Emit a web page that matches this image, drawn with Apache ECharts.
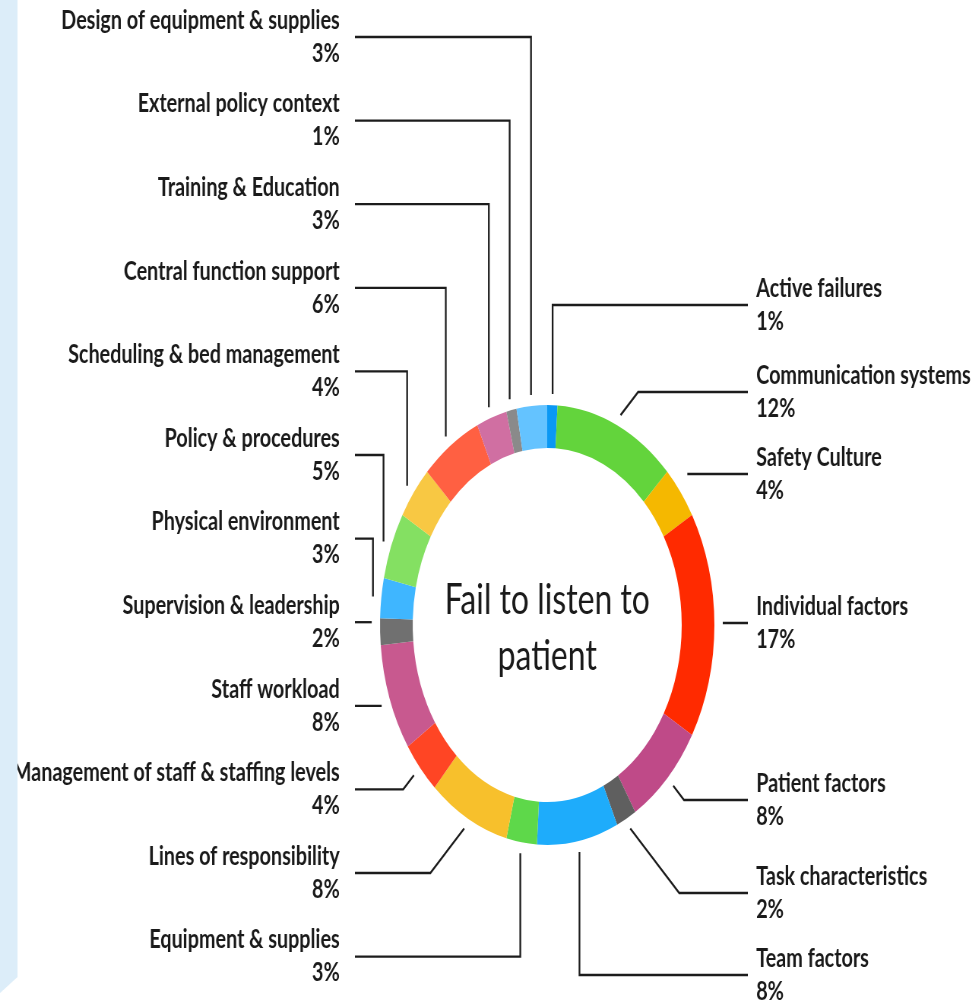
<!DOCTYPE html>
<html>
<head>
<meta charset="utf-8">
<script src="https://cdn.jsdelivr.net/npm/echarts@6/dist/echarts.min.js"></script>
<style>
  html, body { margin: 0; padding: 0; background: #ffffff; overflow: hidden; }
  #wrap { width: 973px; height: 1003px; overflow: hidden; position: relative; }
  /* the ring is drawn round and then squeezed horizontally into an ellipse */
  #chart { width: 1280px; height: 1003px; transform: scaleX(0.76); transform-origin: 0 0; }
</style>
</head>
<body>
<div id="wrap"><div id="chart"></div></div>
<script>
// Contributory factors, clockwise from 12 o'clock
const categories = [
  'Active failures',
  'Communication systems',
  'Safety Culture',
  'Individual factors',
  'Patient factors',
  'Task characteristics',
  'Team factors',
  'Equipment & supplies',
  'Lines of responsibility',
  'Management of staff & staffing levels',
  'Staff workload',
  'Supervision & leadership',
  'Physical environment',
  'Policy & procedures',
  'Scheduling & bed management',
  'Central function support',
  'Training & Education',
  'External policy context',
  'Design of equipment & supplies'
];
const values = [1, 12, 4, 17, 8, 2, 8, 3, 8, 4, 8, 2, 3, 5, 4, 6, 3, 1, 3];
const centerTitle = 'Fail to listen to\npatient';

const sliceColors = [
  '#0a98f4', '#63d43c', '#f5b800', '#ff2a00', '#bf4a88', '#5f5f5f', '#1eacfb',
  '#5ed84a', '#f7c02c', '#ff4524', '#c8598f', '#707070', '#3fb6ff', '#84e062',
  '#f8c843', '#ff6042', '#d06fa2', '#8a8a8a', '#64c3ff'
];

// layout (in the unsqueezed drawing space)
const CX = 720, CY = 625, R_OUT = 220, R_IN = 177;
const RIGHT_COUNT = 7;                 // first seven slices are labelled on the right
const RIGHT_ROW_Y = [305, 392, 474, 623, 800, 893, 975];
const LEFT_TOP = 37, LEFT_STEP = 83.6; // left column: evenly spaced rows
const LEFT_TEXT_X = 447, LEFT_LINE_X = 467;
const RIGHT_TEXT_X = 995, RIGHT_LINE_X = 984;
const GAP = 11;                        // leader stops just short of the ring

const chart = echarts.init(document.getElementById('chart'), null, { width: 1280, height: 1003 });

function leader(params) {
  const i = params.dataIndex;
  const n = categories.length;
  const right = i < RIGHT_COUNT;
  const rowY = right ? RIGHT_ROW_Y[i] : LEFT_TOP + (n - 1 - i) * LEFT_STEP;
  const edgeX = right ? RIGHT_LINE_X : LEFT_LINE_X;

  const p0 = params.labelLinePoints[0];
  const dx = p0[0] - CX, dy = p0[1] - CY;
  const len = Math.hypot(dx, dy) || 1;
  const ax = CX + dx / len * (len + GAP);
  const ay = CY + dy / len * (len + GAP);

  const rise = Math.abs(rowY - ay);
  const dir = right ? 1 : -1;
  let pts;
  if (rise < 12) {
    pts = [[ax, rowY], [edgeX, rowY]];
  } else {
    const bendX = ax + dir * rise;
    const overshoot = right ? bendX > edgeX - 15 : bendX < edgeX + 15;
    const nearAxis = Math.abs(ax - CX) < 0.3 * R_OUT;
    if (overshoot || nearAxis) {
      pts = [[ax, ay], [ax, rowY], [edgeX, rowY]];
    } else {
      pts = [[ax, ay], [bendX, rowY], [edgeX, rowY]];
    }
  }
  return {
    x: right ? RIGHT_TEXT_X : LEFT_TEXT_X,
    y: rowY,
    align: right ? 'left' : 'right',
    verticalAlign: 'middle',
    labelLinePoints: pts
  };
}

chart.setOption({
  animation: false,
  backgroundColor: '#ffffff',
  graphic: [
    {
      type: 'polygon',
      z: 100,
      silent: true,
      shape: { points: [[0, 0], [23, 0], [23, 977], [0, 993]] },
      style: { fill: '#dcedf9' }
    },
    {
      type: 'text',
      silent: true,
      x: CX,
      y: 628,
      style: {
        text: centerTitle,
        fontFamily: 'Lato',
        fontSize: 42,
        lineHeight: 56,
        fill: '#1a1a1a',
        align: 'center',
        verticalAlign: 'middle'
      }
    }
  ],
  series: [{
    type: 'pie',
    center: [CX, CY],
    radius: [R_IN, R_OUT],
    startAngle: 90,
    clockwise: true,
    avoidLabelOverlap: false,
    silent: true,
    emphasis: { disabled: true },
    itemStyle: { borderWidth: 0 },
    label: {
      show: true,
      position: 'outside',
      formatter: '{b}\n{c}%',
      fontFamily: 'Lato',
      fontWeight: 'bold',
      fontSize: 26,
      lineHeight: 33,
      color: '#1a1a1a'
    },
    labelLine: {
      show: true,
      smooth: false,
      lineStyle: { color: '#1c1c1c', width: 2.3 }
    },
    labelLayout: leader,
    data: categories.map((name, i) => ({
      name: name,
      value: values[i],
      itemStyle: { color: sliceColors[i] }
    }))
  }]
});
</script>
</body>
</html>
